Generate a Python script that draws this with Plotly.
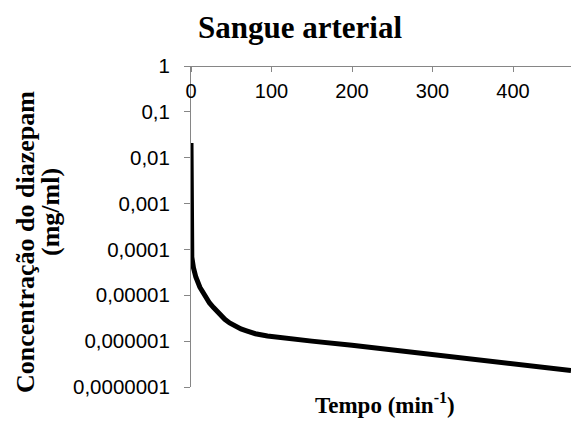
import plotly.graph_objects as go

# Data
tempo = [0, 0.3, 1, 3, 6, 11, 17, 23, 28, 35, 42, 48, 55, 62, 69, 80, 95, 110, 150, 200, 235, 280, 320, 359, 420, 472]
conc = [0.021, 0.0003, 6.8e-5, 4.0e-5, 2.5e-5, 1.5e-5, 9.5e-6, 6.8e-6, 5.4e-6, 3.9e-6, 3.0e-6, 2.5e-6, 2.1e-6, 1.85e-6, 1.68e-6, 1.45e-6, 1.3e-6, 1.2e-6, 1.0e-6, 8.1e-7, 6.9e-7, 5.6e-7, 4.7e-7, 4.0e-7, 3.0e-7, 2.3e-7]

x_ticks = [0, 100, 200, 300, 400]
y_tickvals = [1, 0.1, 0.01, 0.001, 0.0001, 0.00001, 0.000001, 0.0000001]
y_ticktext = ["1", "0,1", "0,01", "0,001", "0,0001", "0,00001", "0,000001", "0,0000001"]

W, H = 571, 421
L, R, T, B = 191, 0, 66, 34
pw = W - L - R

fig = go.Figure()
fig.add_trace(go.Scatter(x=tempo, y=conc, mode="lines",
                         line=dict(color="black", width=5), showlegend=False))

axis_gray = "#868686"
fig.update_layout(
    width=W, height=H,
    margin=dict(l=L, r=R, t=T, b=B),
    plot_bgcolor="white", paper_bgcolor="white",
    xaxis=dict(side="bottom", anchor="free", position=1.0,
               range=[0, 472], tickvals=x_ticks,
               ticks="outside", ticklen=5, tickcolor=axis_gray,
               ticklabelstandoff=2,
               showline=True, linecolor=axis_gray, linewidth=1,
               showgrid=False, zeroline=False,
               tickfont=dict(family="Liberation Sans, Arial", size=20, color="black")),
    yaxis=dict(type="log", range=[-7, 0], tickvals=y_tickvals, ticktext=y_ticktext,
               domain=[0, 1],
               ticks="outside", ticklen=6, tickcolor=axis_gray,
               ticklabelstandoff=10,
               showline=True, linecolor=axis_gray, linewidth=1,
               showgrid=False, zeroline=False,
               tickfont=dict(family="Liberation Sans, Arial", size=20.5, color="black")),
)

serif = "Liberation Serif, Times New Roman"
def px_x(p):
    return (p - L) / pw

def px_y(p):
    return (H - B - p) / (H - T - B)

fig.add_annotation(text="<b>Sangue arterial</b>", x=px_x(300), y=px_y(28),
                   xref="paper", yref="paper", showarrow=False,
                   xanchor="center", yanchor="middle",
                   font=dict(family=serif, size=31, color="black"))
fig.add_annotation(text="<b>Concentração do diazepam</b>", x=px_x(25), y=px_y(242),
                   xref="paper", yref="paper", showarrow=False, textangle=-90,
                   xanchor="center", yanchor="middle",
                   font=dict(family=serif, size=26, color="black"))
fig.add_annotation(text="<b>(mg/ml)</b>", x=px_x(50), y=px_y(212),
                   xref="paper", yref="paper", showarrow=False, textangle=-90,
                   xanchor="center", yanchor="middle",
                   font=dict(family=serif, size=26, color="black"))
fig.add_annotation(text="<b>Tempo (min<sup>-1</sup>)</b>", x=px_x(385), y=px_y(404),
                   xref="paper", yref="paper", showarrow=False,
                   xanchor="center", yanchor="middle",
                   font=dict(family=serif, size=23, color="black"))

fig.write_html("out.html")
